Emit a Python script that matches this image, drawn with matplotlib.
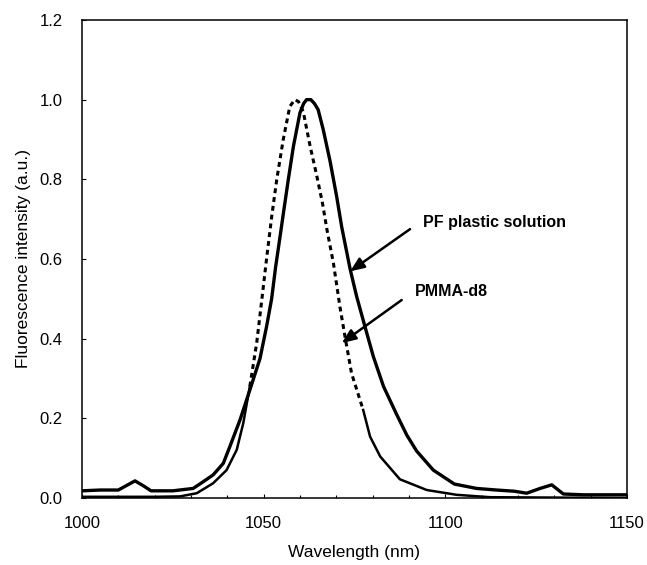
import numpy as np
import matplotlib
matplotlib.use("Agg")
import matplotlib.pyplot as plt
from matplotlib.ticker import MultipleLocator

plt.rcParams['font.family'] = ['Liberation Sans', 'DejaVu Sans']

# PF plastic solution (solid)
pf_wl = [1000, 1005, 1010, 1012, 1014.6, 1017, 1019, 1025, 1030.6, 1033.4, 1036.1,
         1038.9, 1040.7, 1043.5, 1046.2, 1049, 1050.8, 1052.2, 1053.3, 1054.5,
         1055.6, 1056.8, 1058.2, 1060, 1061, 1061.8, 1063, 1064, 1065, 1066.4,
         1068.3, 1070.1, 1071.5, 1073.8, 1075.6, 1077.9, 1080.2, 1083, 1086.6,
         1089.4, 1092.1, 1096.7, 1102.5, 1108.6, 1114.1, 1119, 1122.4, 1126.1,
         1129.3, 1132.5, 1138, 1150]
pf_val = [0.018, 0.02, 0.02, 0.03, 0.043, 0.03, 0.018, 0.018, 0.024, 0.041, 0.058,
          0.087, 0.129, 0.196, 0.271, 0.35, 0.43, 0.5, 0.58, 0.655,
          0.725, 0.8, 0.883, 0.967, 0.99, 1.0, 1.0, 0.99, 0.975, 0.925,
          0.845, 0.757, 0.68, 0.575, 0.506, 0.43, 0.355, 0.28, 0.21,
          0.158, 0.118, 0.07, 0.035, 0.024, 0.02, 0.017, 0.012, 0.024,
          0.033, 0.01, 0.008, 0.008]

# PMMA-d8 (dashed)
pm_wl = [1000, 1020, 1027, 1031.6, 1036.1, 1039.8, 1042.6, 1044.4, 1046.2, 1048.1,
         1049.4, 1050.8, 1052.2, 1053.6, 1055.4, 1057.2, 1058.6, 1059.6, 1060.9,
         1062.8, 1064.6, 1066.2, 1067.5, 1069.2, 1071, 1072.4, 1074.2, 1077.4,
         1079.3, 1082.1, 1087.5, 1094.9, 1103.1, 1112.3, 1150]
pm_val = [0.003, 0.003, 0.004, 0.012, 0.037, 0.07, 0.121, 0.188, 0.28, 0.39,
          0.49, 0.6, 0.705, 0.799, 0.9, 0.983, 1.0, 0.995, 0.97,
          0.883, 0.81, 0.74, 0.67, 0.59, 0.48, 0.405, 0.313, 0.221,
          0.154, 0.104, 0.047, 0.02, 0.008, 0.002, 0.0]

pm_wl = np.array(pm_wl)
pm_val = np.array(pm_val)

fig = plt.figure(figsize=(6.47, 5.65), dpi=100)
ax = fig.add_axes([0.1267, 0.1186, 0.8423, 0.846])

ax.plot(pf_wl, pf_val, color='black', lw=2.4, solid_joinstyle='round')

# the dashed curve turns into a thin solid line in the tails
core = pm_val >= 0.2
tail = ~core
tail_ext = tail | np.roll(tail, 1) | np.roll(tail, -1)
ax.plot(pm_wl, np.ma.masked_where(~core, pm_val), color='black', lw=2.2,
        dashes=(1.6, 1.3))
ax.plot(pm_wl, np.ma.masked_where(~tail_ext, pm_val), color='black', lw=1.8)

ax.set_xlim(1000, 1150)
ax.set_ylim(0, 1.2)
ax.xaxis.set_major_locator(MultipleLocator(50))
ax.xaxis.set_minor_locator(MultipleLocator(10))
ax.yaxis.set_major_locator(MultipleLocator(0.2))
ax.yaxis.set_major_formatter(matplotlib.ticker.FormatStrFormatter('%.1f'))
ax.tick_params(axis='both', which='both', direction='in', labelsize=12)
ax.tick_params(axis='both', which='major', length=3, width=0.8)
ax.tick_params(axis='x', which='minor', length=2.5, width=0.8)
ax.tick_params(axis='x', pad=13)
ax.tick_params(axis='y', pad=14)
for s in ax.spines.values():
    s.set_linewidth(1.1)

ax.set_xlabel('Wavelength (nm)', fontsize=12.5, labelpad=10)
ax.set_ylabel('Fluorescence intensity (a.u.)', fontsize=12.5, labelpad=6)

ap = dict(arrowstyle='-|>,head_length=0.6,head_width=0.25', color='black',
          lw=1.8, mutation_scale=14, shrinkA=0, shrinkB=0)
ax.annotate('', xy=(1073.8, 0.569), xytext=(1090.3, 0.675), arrowprops=ap)
ax.annotate('', xy=(1071.5, 0.389), xytext=(1088, 0.497), arrowprops=ap)
ax.text(1093.8, 0.691, 'PF plastic solution', fontsize=11.5, fontweight='bold',
        ha='left', va='center')
ax.text(1091.7, 0.518, 'PMMA-d8', fontsize=11.5, fontweight='bold',
        ha='left', va='center')

fig.savefig('out.png', dpi=100)
